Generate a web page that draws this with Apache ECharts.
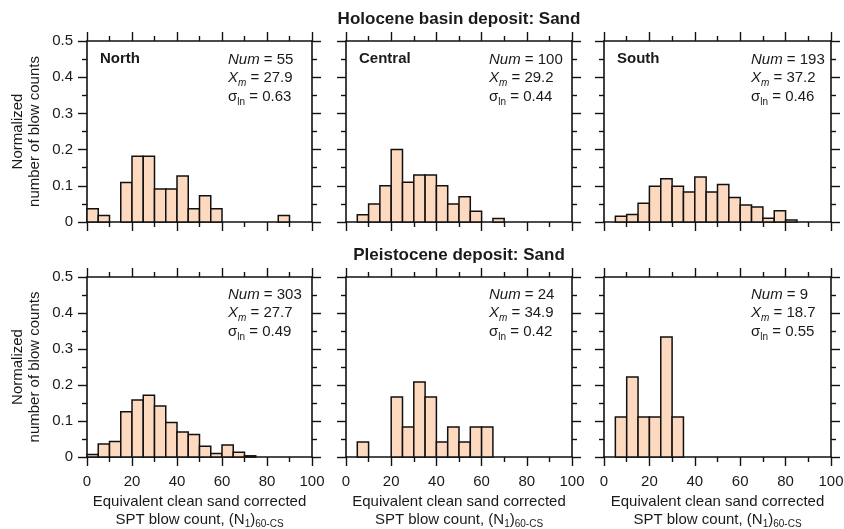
<!DOCTYPE html>
<html>
<head>
<meta charset="utf-8">
<script src="https://cdn.jsdelivr.net/npm/echarts@6/dist/echarts.min.js"></script>
<style>
  html, body { margin: 0; padding: 0; background: #ffffff; }
  #chart { width: 844px; height: 529px; }
</style>
</head>
<body>
<div id="chart"></div>
<script>
// SPT blow-count histograms, bins 5 blows wide from 0 to 100
const binStarts = [0, 5, 10, 15, 20, 25, 30, 35, 40, 45, 50, 55, 60, 65, 70, 75, 80, 85, 90, 95];
const binWidth = 5;

// Counts per bin
const holoceneNorth   = [2, 1, 0, 6, 10, 10, 5, 5, 7, 2, 4, 2, 0, 0, 0, 0, 0, 1, 0, 0];
const holoceneCentral = [0, 2, 5, 10, 20, 11, 13, 13, 10, 5, 7, 3, 0, 1, 0, 0, 0, 0, 0, 0];
const holoceneSouth   = [0, 3, 4, 10, 19, 23, 19, 16, 24, 16, 20, 13, 9, 8, 2, 6, 1, 0, 0, 0];
const pleistoNorth    = [2, 11, 13, 38, 48, 52, 43, 29, 21, 19, 9, 3, 10, 4, 1, 0, 0, 0, 0, 0];
const pleistoCentral  = [0, 1, 0, 0, 4, 2, 5, 4, 1, 2, 1, 2, 2, 0, 0, 0, 0, 0, 0, 0];
const pleistoSouth    = [0, 1, 2, 1, 1, 3, 1, 0, 0, 0, 0, 0, 0, 0, 0, 0, 0, 0, 0, 0];

// Panel statistics
const regionNames = ['North', 'Central', 'South', '', '', ''];
const sampleNums  = [55, 100, 193, 303, 24, 9];
const meanValues  = ['27.9', '29.2', '37.2', '27.7', '34.9', '18.7'];
const sigmaValues = ['0.63', '0.44', '0.46', '0.49', '0.42', '0.55'];

// Row titles
const rowTitles = ['Holocene basin deposit: Sand', 'Pleistocene deposit: Sand'];

// Axis ticks
const xMin = 0, xMax = 100, xInterval = 20;
const yMin = 0, yMax = 0.5, yInterval = 0.1;

const panelCounts = [holoceneNorth, holoceneCentral, holoceneSouth,
                     pleistoNorth, pleistoCentral, pleistoSouth];

// Layout (pixels)
const colLeft   = [87, 346, 604];
const colWidth  = [225, 226, 227];
const rowTop    = [41, 277];
const rowHeight = [181, 180];
const statLeft  = [228, 489, 751];
const titleY    = [19, 255];

const FONT = "'Liberation Sans', Arial, Helvetica, sans-serif";
const INK = '#1a1a1a';
const LINE = '#111111';
const FILL = '#fcd9bf';

const chart = echarts.init(document.getElementById('chart'), null, { renderer: 'canvas' });

const grids = [], xAxes = [], yAxes = [], series = [], graphics = [];

for (let i = 0; i < 6; i++) {
  const row = Math.floor(i / 3), col = i % 3;
  grids.push({
    left: colLeft[col], top: rowTop[row], width: colWidth[col], height: rowHeight[row],
    containLabel: false, outerBoundsMode: 'none'
  });

  const axisLine = { show: true, onZero: false, lineStyle: { color: LINE, width: 1.6 } };
  const axisTick = { show: true, inside: false, length: 9, lineStyle: { color: LINE, width: 1.4 } };
  const minorTick = { show: true, splitNumber: 2, length: 5, lineStyle: { color: LINE, width: 1.4 } };

  const xBase = {
    type: 'value', gridIndex: i, min: xMin, max: xMax, interval: xInterval,
    axisLine, axisTick, minorTick,
    splitLine: { show: false }, minorSplitLine: { show: false }
  };
  xAxes.push(Object.assign({}, xBase, {
    position: 'bottom',
    axisLabel: { show: row === 1, margin: 17, fontSize: 15, color: INK, fontFamily: FONT },
    name: row === 1 ? 'Equivalent clean sand corrected\nSPT blow count, (N{sub|1}){sub|60-CS}' : '',
    nameLocation: 'middle', nameGap: 36,
    nameTextStyle: {
      fontSize: 15, lineHeight: 18, color: INK, fontFamily: FONT,
      rich: { sub: { fontSize: 10, lineHeight: 10, verticalAlign: 'bottom', color: INK, fontFamily: FONT } }
    }
  }));
  xAxes.push(Object.assign({}, xBase, { position: 'top', axisLabel: { show: false } }));

  const yBase = {
    type: 'value', gridIndex: i, min: yMin, max: yMax, interval: yInterval,
    axisLine, axisTick, minorTick,
    splitLine: { show: false }, minorSplitLine: { show: false }
  };
  yAxes.push(Object.assign({}, yBase, {
    position: 'left',
    axisLabel: { show: col === 0, margin: 14, fontSize: 15, color: INK, fontFamily: FONT },
    name: col === 0 ? 'Normalized\nnumber of blow counts' : '',
    nameLocation: 'middle', nameGap: 44, nameRotate: 90,
    nameTextStyle: { fontSize: 15, lineHeight: 17, color: INK, fontFamily: FONT }
  }));
  yAxes.push(Object.assign({}, yBase, { position: 'right', axisLabel: { show: false } }));

  // Histogram bars: [bin start, bin end, normalized count]
  const counts = panelCounts[i];
  const data = [];
  counts.forEach((c, k) => {
    if (c > 0) data.push([binStarts[k], binStarts[k] + binWidth, c / sampleNums[i]]);
  });
  series.push({
    type: 'custom',
    xAxisIndex: i * 2,
    yAxisIndex: i * 2,
    data,
    encode: { x: [0, 1], y: 2 },
    renderItem: function (params, api) {
      const p0 = api.coord([api.value(0), api.value(2)]);
      const p1 = api.coord([api.value(1), 0]);
      return {
        type: 'rect',
        shape: { x: p0[0], y: p0[1], width: p1[0] - p0[0], height: p1[1] - p0[1] },
        style: { fill: FILL, stroke: LINE, lineWidth: 1.5 }
      };
    },
    silent: true
  });

  // Region label and statistics
  const top = rowTop[row];
  if (regionNames[i]) {
    graphics.push({
      type: 'text', x: colLeft[col] + 13, y: top + 18,
      style: { text: regionNames[i], fontSize: 15, fontWeight: 'bold', fontFamily: FONT,
               fill: INK, align: 'left', verticalAlign: 'middle' }
    });
  }
  const subRich = {
    it:   { fontSize: 15, fontStyle: 'italic', lineHeight: 20, fontFamily: FONT, fill: INK },
    subi: { fontSize: 10, fontStyle: 'italic', lineHeight: 10, verticalAlign: 'bottom', fontFamily: FONT, fill: INK },
    sub:  { fontSize: 10, lineHeight: 10, verticalAlign: 'bottom', fontFamily: FONT, fill: INK }
  };
  const statY = row === 0 ? [top + 19, top + 37, top + 56] : [top + 18, top + 36, top + 55];
  const statLines = [
    '{it|Num} = ' + sampleNums[i],
    '{it|X}{subi|m} = ' + meanValues[i],
    'σ{sub|ln} = ' + sigmaValues[i]
  ];
  statLines.forEach((t, k) => {
    graphics.push({
      type: 'text', x: statLeft[col], y: statY[k],
      style: { text: t, fontSize: 15, lineHeight: 20, fontFamily: FONT, fill: INK,
               align: 'left', verticalAlign: 'middle', rich: subRich }
    });
  });
}

rowTitles.forEach((t, r) => {
  graphics.push({
    type: 'text', x: 459, y: titleY[r],
    style: { text: t, fontSize: 17, fontWeight: 'bold', fontFamily: FONT, fill: INK,
             align: 'center', verticalAlign: 'middle' }
  });
});

chart.setOption({
  animation: false,
  backgroundColor: '#ffffff',
  textStyle: { fontFamily: FONT },
  grid: grids,
  xAxis: xAxes,
  yAxis: yAxes,
  series,
  graphic: graphics
});
</script>
</body>
</html>
